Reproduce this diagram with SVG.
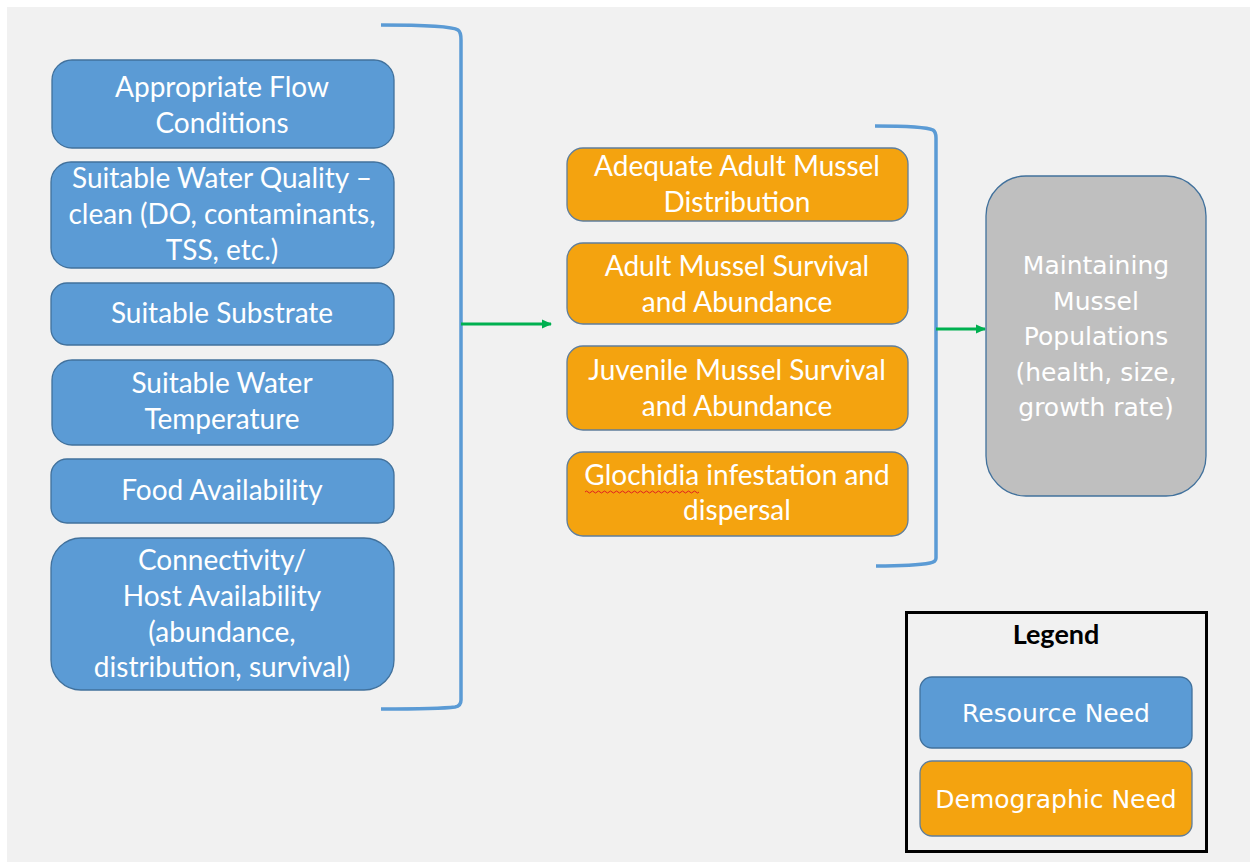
<svg xmlns="http://www.w3.org/2000/svg" width="1250" height="862" viewBox="0 0 1250 862">
<defs>
<marker id="ah" markerWidth="10" markerHeight="10" refX="9" refY="5" orient="auto" markerUnits="userSpaceOnUse">
<path d="M0,0.5 L10,5 L0,9.5 Z" fill="#00b050"/>
</marker>
<style>
.res{fill:#5b9bd5;stroke:#41719c;stroke-width:1.3}
.dem{fill:#f4a30f;stroke:#5f7e9c;stroke-width:1.3}
.t{font-family:Lato,"Liberation Sans",sans-serif;font-size:28px;fill:#ffffff;text-anchor:middle}
.v{font-family:"DejaVu Sans",Verdana,sans-serif;font-size:25px;fill:#ffffff;text-anchor:middle}
.br{fill:none;stroke:#5b9bd5;stroke-width:3.5}
.ar{fill:none;stroke:#00b050;stroke-width:3}
</style>
</defs>
<rect x="0" y="0" width="1250" height="862" fill="#ffffff"/>
<rect x="7" y="7" width="1243" height="855" fill="#f1f1f1"/>

<g id="n-flow"><rect class="res" x="52" y="60" width="342" height="88" rx="20"/>
<text class="t" x="222" y="97">Appropriate Flow</text><text class="t" x="222" y="133">Conditions</text></g>
<g id="n-quality"><rect class="res" x="51" y="162" width="343" height="106" rx="20"/>
<text class="t" x="222" y="188">Suitable Water Quality –</text><text class="t" x="222" y="224">clean (DO, contaminants,</text><text class="t" x="222" y="260">TSS, etc.)</text></g>
<g id="n-substrate"><rect class="res" x="51" y="283" width="343" height="62" rx="16"/>
<text class="t" x="222" y="323">Suitable Substrate</text></g>
<g id="n-temp"><rect class="res" x="52" y="360" width="341" height="85" rx="20"/>
<text class="t" x="222" y="393">Suitable Water</text><text class="t" x="222" y="429">Temperature</text></g>
<g id="n-food"><rect class="res" x="51" y="459" width="343" height="64" rx="16"/>
<text class="t" x="222" y="500">Food Availability</text></g>
<g id="n-host"><rect class="res" x="51" y="538" width="343" height="152" rx="30"/>
<text class="t" x="222" y="570">Connectivity/</text><text class="t" x="222" y="606">Host Availability</text><text class="t" x="222" y="642">(abundance,</text><text class="t" x="222" y="677">distribution, survival)</text></g>

<g id="n-adult-dist"><rect class="dem" x="567" y="148" width="341" height="73" rx="16"/>
<text class="t" x="737" y="176">Adequate Adult Mussel</text><text class="t" x="737" y="212">Distribution</text></g>
<g id="n-adult-surv"><rect class="dem" x="567" y="243" width="341" height="81" rx="16"/>
<text class="t" x="737" y="276">Adult Mussel Survival</text><text class="t" x="737" y="312">and Abundance</text></g>
<g id="n-juv"><rect class="dem" x="567" y="346" width="341" height="84" rx="16"/>
<text class="t" x="737" y="380">Juvenile Mussel Survival</text><text class="t" x="737" y="416">and Abundance</text></g>
<g id="n-gloch"><rect class="dem" x="567" y="452" width="341" height="84" rx="16"/>
<text class="t" x="737" y="485">Glochidia infestation and</text><text class="t" x="737" y="520">dispersal</text>
<path d="M585,492 q1.5,-2 3,0 t3,0 t3,0 t3,0 t3,0 t3,0 t3,0 t3,0 t3,0 t3,0 t3,0 t3,0 t3,0 t3,0 t3,0 t3,0 t3,0 t3,0 t3,0 t3,0 t3,0 t3,0 t3,0 t3,0 t3,0 t3,0 t3,0 t3,0 t3,0 t3,0 t3,0 t3,0 t3,0 t3,0 t3,0 t3,0 t3,0 t3,0" fill="none" stroke="#e02020" stroke-width="1"/></g>

<g id="n-pop"><rect x="986" y="176" width="220" height="320" rx="40" fill="#bfbfbf" stroke="#41719c" stroke-width="1.3"/>
<text class="v" x="1096" y="274">Maintaining</text><text class="v" x="1096" y="310">Mussel</text><text class="v" x="1096" y="345">Populations</text><text class="v" x="1096" y="381">(health, size,</text><text class="v" x="1096" y="416">growth rate)</text></g>

<g id="legend">
<rect x="906.5" y="612.5" width="300" height="239" fill="none" stroke="#000000" stroke-width="3"/>
<text x="1056" y="644" font-family="Lato,'Liberation Sans',sans-serif" font-size="27" font-weight="bold" fill="#000000" text-anchor="middle">Legend</text>
<rect class="res" x="920" y="677" width="272" height="71" rx="12"/>
<text class="v" x="1056" y="722">Resource Need</text>
<rect class="dem" x="920" y="761" width="272" height="75" rx="12"/>
<text class="v" x="1056" y="808">Demographic Need</text>
</g>

<g id="connectors">
<path class="br" d="M381,25 Q450,25 458,30 Q461,32 461,40 L461,700 Q461,706 455,707 Q440,709 381,709"/>
<path class="br" d="M875,126 Q925,126 933,130 Q936,132 936,138 L936,558 Q936,562 930,563 Q915,566 876,566"/>
<line class="ar" x1="461" y1="324" x2="551" y2="324" marker-end="url(#ah)"/>
<line class="ar" x1="936" y1="329" x2="985" y2="329" marker-end="url(#ah)"/>
</g>
</svg>
